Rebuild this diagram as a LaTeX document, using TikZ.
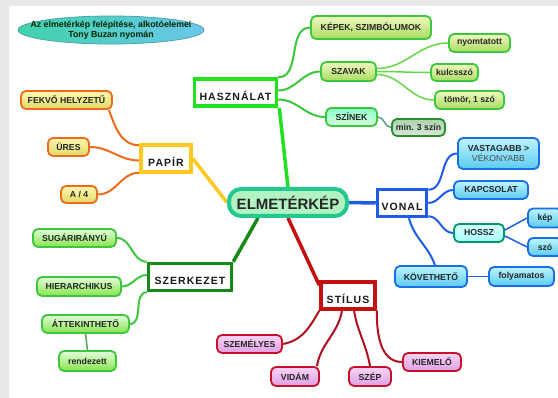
\documentclass[tikz,border=0pt]{standalone}
\usepackage{fontspec}
\setmainfont{Liberation Sans}
\newfontfamily\spacedfont[LetterSpace=10]{Liberation Sans}
\usetikzlibrary{shapes.geometric}
\pgfdeclarelayer{back}
\pgfdeclarelayer{bg}
\pgfsetlayers{back,bg,main}
\definecolor{orB}{HTML}{F06A1E}
\definecolor{yelT}{HTML}{FFF8B0}
\definecolor{yelB}{HTML}{E0D868}
\definecolor{grB}{HTML}{3CC83C}
\definecolor{grT}{HTML}{F0F8C0}
\definecolor{grBt}{HTML}{A8DC60}
\definecolor{bluB}{HTML}{1A6EE8}
\definecolor{bluT}{HTML}{BEF4FF}
\definecolor{bluBt}{HTML}{5ACCEE}
\definecolor{redB}{HTML}{C8102A}
\definecolor{pinkT}{HTML}{FAD4F6}
\definecolor{pinkB}{HTML}{DCA0E4}
\definecolor{papirC}{HTML}{FFC820}
\definecolor{haszC}{HTML}{22E022}
\definecolor{szerC}{HTML}{168A16}
\definecolor{stilC}{HTML}{C41010}
\definecolor{vonC}{HTML}{1E5CE6}
\definecolor{cenB}{HTML}{22C890}
\definecolor{cenF}{HTML}{B2F2C2}
\definecolor{lgr}{HTML}{62D846}
\definecolor{tealG}{HTML}{5A9A8A}
\definecolor{darkR}{HTML}{B01020}
\definecolor{titL}{HTML}{40D2AA}
\definecolor{titR}{HTML}{6CC6EC}
\tikzset{
  leaf/.style={draw, line width=1.8pt, rounded corners=5pt,
    font=\fontsize{8.7}{10}\selectfont\bfseries, text=black!85,
    inner xsep=1pt, inner ysep=1pt},
  orleaf/.style={leaf, draw=orB, top color=yelT, bottom color=yelB},
  grleaf/.style={leaf, draw=grB, top color=grT, bottom color=grBt},
  lgleaf/.style={leaf, draw=grB, top color=grT!60!green!25, bottom color=grBt!80!green},
  blleaf/.style={leaf, draw=bluB, top color=bluT, bottom color=bluBt},
  pkleaf/.style={leaf, draw=redB, top color=pinkT, bottom color=pinkB},
  mainbox/.style={draw, fill=white, line width=3.5pt,
    font={\spacedfont\bfseries\fontsize{10.5}{12}\selectfont}, text=black!90,
    text height=17pt, text depth=1pt, inner ysep=4pt, inner xsep=0pt,
    minimum height=27pt},
  bigline/.style={line width=3.5pt},
  subline/.style={line width=2pt},
  thinline/.style={line width=1.5pt},
}
\begin{document}
\begin{tikzpicture}[x=1pt,y=-1pt]
\useasboundingbox (0,0) rectangle (558,398);
\begin{pgfonlayer}{back}
\fill[gray!18] (0,0) rectangle (558,398);
\fill[white] (9,6) rectangle (558,398);
\end{pgfonlayer}

% title
\node[ellipse, draw=teal!70, line width=0.8pt, left color=titL, right color=titR,
  minimum width=186pt, minimum height=28pt, inner xsep=-16pt, inner ysep=-2pt, align=center,
  font=\fontsize{8.8}{9.6}\selectfont\bfseries, text=green!15!black] (title) at (111,30)
  {Az elmetérkép felépítése, alkotóelemei\\Tony Buzan nyomán};

% center
\node[draw=cenB, fill=cenF, line width=4pt, rounded corners=12pt, minimum width=118pt, minimum height=27pt,
  font=\fontsize{15}{17}\selectfont\bfseries, text=black!85, inner sep=0pt] (cen) at (288,202.5) {ELMETÉRKÉP};

% main boxes
\node[mainbox, draw=papirC, minimum width=50pt] (papir) at (166,158.5) {PAPÍR};
\node[mainbox, draw=haszC, minimum width=82pt] (hasz) at (235.5,92.5) {HASZNÁLAT};
\node[mainbox, draw=vonC, minimum width=49pt] (vonal) at (402,203) {VONAL};
\node[mainbox, draw=szerC, minimum width=83pt] (szer) at (190,277) {SZERKEZET};
\node[mainbox, draw=stilC, minimum width=54pt] (stil) at (348,295.5) {STÍLUS};

% PAPÍR leaves
\node[orleaf, minimum width=91pt, minimum height=18pt] (fekvo) at (66.5,100) {FEKVŐ HELYZETŰ};
\node[orleaf, minimum width=41pt, minimum height=18pt] (ures) at (68.5,147) {ÜRES};
\node[orleaf, minimum width=36pt, minimum height=17pt] (a4) at (79,194.5) {A / 4};

% HASZNÁLAT leaves
\node[grleaf, minimum width=120pt, minimum height=23pt] (kepek) at (371,27.5) {KÉPEK, SZIMBÓLUMOK};
\node[grleaf, minimum width=55pt, minimum height=19pt] (szavak) at (348.5,71.5) {SZAVAK};
\node[grleaf, minimum width=61pt, minimum height=18pt] (nyomt) at (479.5,43) {nyomtatott};
\node[grleaf, minimum width=47pt, minimum height=17pt] (kulcs) at (454.5,72.5) {kulcsszó};
\node[grleaf, minimum width=69pt, minimum height=18pt] (tomor) at (469.5,100) {tömör, 1 szó};
\node[leaf, draw=grB, top color=green!45!cyan!45, bottom color=green!15!white, minimum width=51pt, minimum height=18pt] (szinek) at (351.5,117) {SZÍNEK};
\node[leaf, draw=grB!70!black, top color=green!30!gray!50, bottom color=green!25!gray!25, minimum width=53pt, minimum height=17pt] (min) at (418.5,127.5) {min. 3 szín};

% VONAL leaves
\node[blleaf, minimum width=81pt, minimum height=31pt, align=center] (vast) at (498.5,153.5) {VASTAGABB >\\{\mdseries\color{black!70}VÉKONYABB}};
\node[blleaf, minimum width=74pt, minimum height=18pt] (kapcs) at (491,190) {KAPCSOLAT};
\node[leaf, draw=teal!80!green, top color=cyan!15, bottom color=cyan!35, minimum width=50pt, minimum height=18pt] (hossz) at (479,233) {HOSSZ};
\node[blleaf, minimum width=34pt, minimum height=19pt] (kep) at (545,218) {kép};
\node[blleaf, minimum width=34pt, minimum height=18pt] (szo) at (545,247) {szó};
\node[blleaf, minimum width=72pt, minimum height=21pt] (kov) at (431,276.5) {KÖVETHETŐ};
\node[blleaf, minimum width=65pt, minimum height=19pt] (foly) at (521.5,276.5) {folyamatos};

% SZERKEZET leaves
\node[lgleaf, minimum width=83pt, minimum height=18pt] (sug) at (74.5,238) {SUGÁRIRÁNYÚ};
\node[lgleaf, minimum width=84pt, minimum height=19pt] (hier) at (79,286.5) {HIERARCHIKUS};
\node[lgleaf, minimum width=87pt, minimum height=18pt] (att) at (85.5,324) {ÁTTEKINTHETŐ};
\node[lgleaf, minimum width=57pt, minimum height=20pt] (rend) at (87.5,361) {rendezett};

% STÍLUS leaves
\node[pkleaf, minimum width=65pt, minimum height=18pt] (szem) at (249.5,344) {SZEMÉLYES};
\node[pkleaf, minimum width=48pt, minimum height=19pt] (vidam) at (295,376.5) {VIDÁM};
\node[pkleaf, minimum width=42pt, minimum height=19pt] (szep) at (370,376.5) {SZÉP};
\node[pkleaf, minimum width=58pt, minimum height=18pt] (kiem) at (432,362) {KIEMELŐ};

\begin{pgfonlayer}{bg}
% main connectors
\draw[bigline, papirC] (papir.east) -- (cen.west);
\draw[bigline, haszC] ([xshift=1pt]hasz.south east) -- (cen.north);
\draw[bigline, vonC] (cen.east) -- (vonal.west);
\draw[bigline, szerC] ([xshift=-30pt]cen.south) -- (szer.north east);
\draw[bigline, stilC] (cen.south) -- ([yshift=-5pt]stil.north west);

% PAPÍR
\draw[subline, orB] ([xshift=-4pt]fekvo.south east) to[out=-70,in=180] ([yshift=-2pt]papir.north west);
\draw[subline, orB] (ures.east) to[out=0,in=180] ([yshift=-2pt]papir.west);
\draw[subline, orB] (a4.east) to[out=0,in=180] ([yshift=1pt]papir.south west);

% HASZNÁLAT
\draw[subline, grB] (hasz.north east) to[out=0,in=180] (kepek.west);
\draw[subline, grB] ([yshift=2pt]hasz.east) to[out=0,in=180] (szavak.west);
\draw[subline, grB] ([yshift=-7pt]hasz.east) to[out=0,in=180] (szinek.west);
\draw[thinline, lgr] ([yshift=3pt]szavak.east) to[out=0,in=180] (nyomt.west);
\draw[thinline, lgr] (szavak.east) to[out=0,in=180] (kulcs.west);
\draw[thinline, lgr] ([yshift=-3pt]szavak.east) to[out=0,in=180] (tomor.west);
\draw[thinline, tealG] (szinek.east) to[out=0,in=180] (min.west);

% VONAL
\draw[subline, vonC] ([yshift=-2pt]vonal.north east) to[out=0,in=180] (vast.west);
\draw[subline, vonC] (vonal.east) to[out=0,in=180] (kapcs.west);
\draw[subline, vonC] ([yshift=2pt]vonal.south east) to[out=0,in=180] (hossz.west);
\draw[subline, vonC] ([xshift=7pt]vonal.south) to[out=-75,in=110] ([xshift=4pt]kov.north);
\draw[thinline, vonC] ([yshift=3pt]hossz.east) -- (kep.west);
\draw[thinline, vonC] ([yshift=-3pt]hossz.east) -- (szo.west);
\draw[thinline, vonC] (kov.east) -- (foly.west);

% SZERKEZET
\draw[subline, grB] (sug.east) to[out=0,in=180] (szer.north west);
\draw[subline, grB] (hier.east) to[out=0,in=180] ([yshift=2pt]szer.west);
\draw[subline, grB] (att.east) to[out=0,in=180] (szer.south west);
\draw[thinline, green!30!gray] (att.south) -- (rend.north);

% STÍLUS
\draw[subline, darkR] (stil.south west) to[out=-120,in=10] (szem.east);
\draw[subline, darkR] ([xshift=-6pt]stil.south) to[out=-100,in=80] ([xshift=-3pt]vidam.north east);
\draw[subline, darkR] ([xshift=6pt]stil.south) to[out=-80,in=100] (szep.north);
\draw[subline, darkR] (stil.south east) to[out=-90,in=180] (kiem.west);
\end{pgfonlayer}
\end{tikzpicture}
\end{document}
